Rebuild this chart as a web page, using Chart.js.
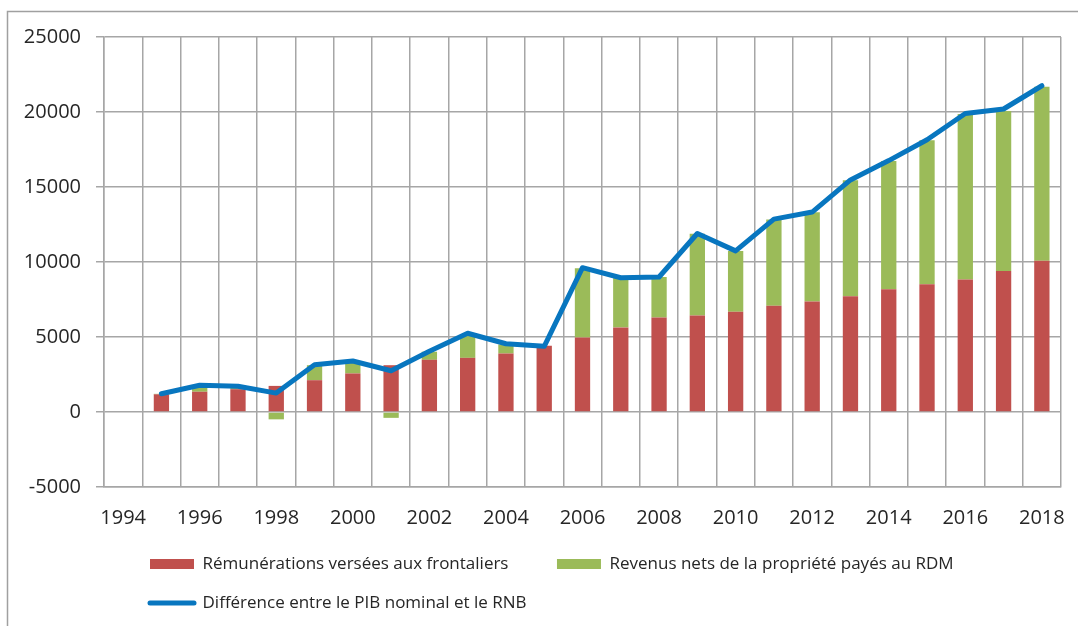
<!DOCTYPE html>
<html><head><meta charset="utf-8">
<script src="https://cdn.jsdelivr.net/npm/chart.js@4.4.0/dist/chart.umd.min.js"></script>
<style>html,body{margin:0;padding:0;background:#fff}#wrap{width:1078px;height:626px;position:relative}</style>
</head><body><div id="wrap"><canvas id="c" width="1078" height="626"></canvas></div>
<script>
const years = ['1994','1995','1996','1997','1998','1999','2000','2001','2002','2003','2004','2005','2006','2007','2008','2009','2010','2011','2012','2013','2014','2015','2016','2017','2018'];
const shownYears = ['1994','1996','1998','2000','2002','2004','2006','2008','2010','2012','2014','2016','2018'];
const remunerations = [null,1180,1350,1520,1740,2120,2570,3120,3480,3610,3900,4410,4970,5640,6300,6440,6690,7090,7370,7710,8180,8510,8840,9400,10090];
const revenusNets = [null,30,400,200,-490,1000,700,-390,540,1450,600,0,4620,3290,2700,5450,4040,5750,5940,7740,8560,9610,11020,10660,11600];
const difference = [null,1220,1780,1720,1260,3150,3400,2750,4050,5250,4550,4380,9620,8950,9000,11900,10740,12860,13330,15470,16760,18150,19900,20200,21750];
const seriesNames = ['Rémunérations versées aux frontaliers', 'Revenus nets de la propriété payés au RDM', 'Différence entre le PIB nominal et le RNB'];
const yMin = -5000, yMax = 25000, yStep = 5000;

const FONT = "'Open Sans', sans-serif";
const GRID = '#a6a6a6';
const TEXT = '#262626';

const framePlugin = {
  id: 'frame',
  beforeDraw(chart) {
    const ctx = chart.ctx;
    ctx.save();
    ctx.fillStyle = '#fff';
    ctx.fillRect(0, 0, chart.width, chart.height);
    ctx.strokeStyle = '#a0a0a0';
    ctx.lineWidth = 1.5;
    ctx.beginPath();
    ctx.moveTo(7.5, chart.height);
    ctx.lineTo(7.5, 11.5);
    ctx.lineTo(chart.width, 11.5);
    ctx.stroke();
    ctx.restore();
  },
  afterLayout(chart) {
    const lg = chart.legend;
    if (lg) { lg.left = 128; lg.top = 533.5; }
  }
};

new Chart(document.getElementById('c'), {
  data: {
    labels: years,
    datasets: [
      { type: 'bar', label: seriesNames[0], data: remunerations, backgroundColor: '#C0504D', stack: 'b', order: 2, categoryPercentage: 1, barPercentage: 0.4 },
      { type: 'bar', label: seriesNames[1], data: revenusNets, backgroundColor: '#9BBB59', stack: 'b', order: 2, categoryPercentage: 1, barPercentage: 0.4 },
      { type: 'line', label: seriesNames[2], data: difference, borderColor: '#0876BF', backgroundColor: '#0876BF', borderWidth: 5, pointRadius: 0, tension: 0, stack: 'l', order: 1, borderJoinStyle: 'round', borderCapStyle: 'round' }
    ]
  },
  options: {
    responsive: false,
    devicePixelRatio: 1,
    animation: false,
    layout: { padding: { left: 20, right: 17, top: 37, bottom: 11 } },
    scales: {
      x: {
        type: 'category', offset: true, stacked: true,
        grid: { offset: true, color: GRID, lineWidth: 1.5, drawTicks: false },
        border: { color: GRID, width: 1.5 },
        ticks: { autoSkip: false, maxRotation: 0, padding: 19, color: TEXT, font: { family: FONT, size: 20 },
          callback: function(v, i) { const l = years[i]; return shownYears.includes(l) ? l : ''; } },
        afterFit(s) { s.height = 40; s.paddingLeft = 0; s.paddingRight = 0; }
      },
      y: {
        stacked: true, min: yMin, max: yMax,
        grid: { color: GRID, lineWidth: 1.5, tickLength: 8 },
        border: { color: GRID, width: 1.5 },
        ticks: { stepSize: yStep, padding: 15, color: TEXT, font: { family: FONT, size: 20 },
          callback: v => String(v) },
        afterFit(s) { s.width = 84; }
      }
    },
    plugins: {
      tooltip: { enabled: false },
      legend: {
        position: 'bottom', align: 'start',
        labels: {
          color: TEXT, font: { family: FONT, size: 17 }, padding: 22,
          usePointStyle: true, pointStyleWidth: 44, boxHeight: 10,
          sort: (a, b) => a.datasetIndex - b.datasetIndex,
          generateLabels(chart) {
            const items = Chart.defaults.plugins.legend.labels.generateLabels(chart);
            items.forEach(it => {
              const ds = chart.data.datasets[it.datasetIndex];
              if (ds.type === 'line') {
                it.pointStyle = 'line'; it.lineWidth = 5; it.strokeStyle = ds.borderColor; it.lineCap = 'round';
              } else {
                it.pointStyle = 'rect'; it.lineWidth = 0; it.fillStyle = ds.backgroundColor; it.strokeStyle = ds.backgroundColor;
                if (it.datasetIndex === 0) it.text = it.text + '\u00A0\u00A0\u00A0\u00A0\u00A0\u00A0';
              }
            });
            return items;
          }
        }
      }
    }
  },
  plugins: [framePlugin]
});
</script></body></html>
